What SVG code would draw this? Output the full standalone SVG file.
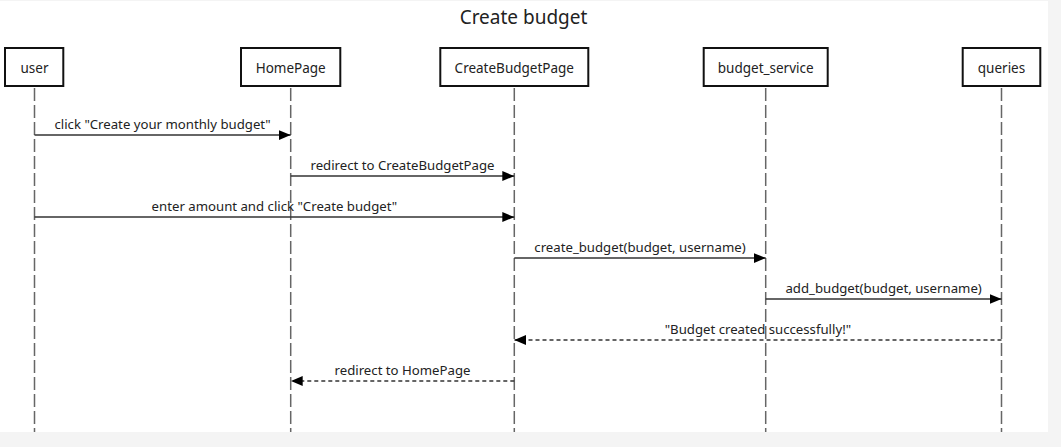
<svg xmlns="http://www.w3.org/2000/svg" width="1061" height="447" viewBox="0 0 1061 447">
<defs>
<style>
text{font-family:"Noto Sans","DejaVu Sans",sans-serif;fill:#222}
.title{font-size:19px}
.plabel{font-size:13.5px}
.mlabel{font-size:13.2px}
.box{fill:#fff;stroke:#111;stroke-width:2}
.life{stroke:#666;stroke-width:1.5;stroke-dasharray:13,4;fill:none}
.msg{stroke:#333;stroke-width:1.3;fill:none}
.ret{stroke:#333;stroke-width:1.3;fill:none;stroke-dasharray:4,3}
</style>
<marker id="ah" viewBox="0 0 12 10" refX="12" refY="5" markerWidth="12" markerHeight="10" markerUnits="userSpaceOnUse" orient="auto">
<path d="M0,0 L12,5 L0,10 Z" fill="#000"/>
</marker>
</defs>
<rect x="0" y="0" width="1061" height="447" fill="#f4f4f4"/>
<rect x="0" y="1" width="1048" height="431" fill="#fff"/>
<text class="title" x="523.5" y="24" text-anchor="middle">Create budget</text>
<g id="lifelines">
<line class="life" x1="34.5" y1="88" x2="34.5" y2="432"/>
<line class="life" x1="290.7" y1="88" x2="290.7" y2="432"/>
<line class="life" x1="514.3" y1="88" x2="514.3" y2="432"/>
<line class="life" x1="765.7" y1="88" x2="765.7" y2="432"/>
<line class="life" x1="1001.5" y1="88" x2="1001.5" y2="432"/>
</g>
<g id="user"><rect class="box" x="5" y="48" width="58.3" height="38"/><text class="plabel" x="34.5" y="72.5" text-anchor="middle">user</text></g>
<g id="HomePage"><rect class="box" x="241" y="48" width="99.3" height="38"/><text class="plabel" x="290.7" y="72.5" text-anchor="middle">HomePage</text></g>
<g id="CreateBudgetPage"><rect class="box" x="440.3" y="48" width="148" height="38"/><text class="plabel" x="514.3" y="72.5" text-anchor="middle">CreateBudgetPage</text></g>
<g id="budget_service"><rect class="box" x="703.7" y="48" width="124" height="38"/><text class="plabel" x="765.7" y="72.5" text-anchor="middle">budget_service</text></g>
<g id="queries"><rect class="box" x="962.7" y="48" width="77.6" height="38"/><text class="plabel" x="1001.5" y="72.5" text-anchor="middle">queries</text></g>
<g id="connectors">
<line class="msg" x1="34.5" y1="135" x2="290.7" y2="135" marker-end="url(#ah)"/>
<text class="mlabel" x="162.6" y="129" text-anchor="middle">click "Create your monthly budget"</text>
<line class="msg" x1="290.7" y1="176" x2="514.3" y2="176" marker-end="url(#ah)"/>
<text class="mlabel" x="402.5" y="170" text-anchor="middle">redirect to CreateBudgetPage</text>
<line class="msg" x1="34.5" y1="217" x2="514.3" y2="217" marker-end="url(#ah)"/>
<text class="mlabel" x="274.4" y="211" text-anchor="middle">enter amount and click "Create budget"</text>
<line class="msg" x1="514.3" y1="258" x2="765.7" y2="258" marker-end="url(#ah)"/>
<text class="mlabel" x="640" y="252" text-anchor="middle">create_budget(budget, username)</text>
<line class="msg" x1="765.7" y1="299" x2="1001.5" y2="299" marker-end="url(#ah)"/>
<text class="mlabel" x="883.6" y="293" text-anchor="middle">add_budget(budget, username)</text>
<line class="ret" x1="1001.5" y1="340" x2="514.3" y2="340" marker-end="url(#ah)"/>
<text class="mlabel" x="757.9" y="334" text-anchor="middle">"Budget created successfully!"</text>
<line class="ret" x1="514.3" y1="381" x2="290.7" y2="381" marker-end="url(#ah)"/>
<text class="mlabel" x="402.5" y="375" text-anchor="middle">redirect to HomePage</text>
</g>
</svg>
